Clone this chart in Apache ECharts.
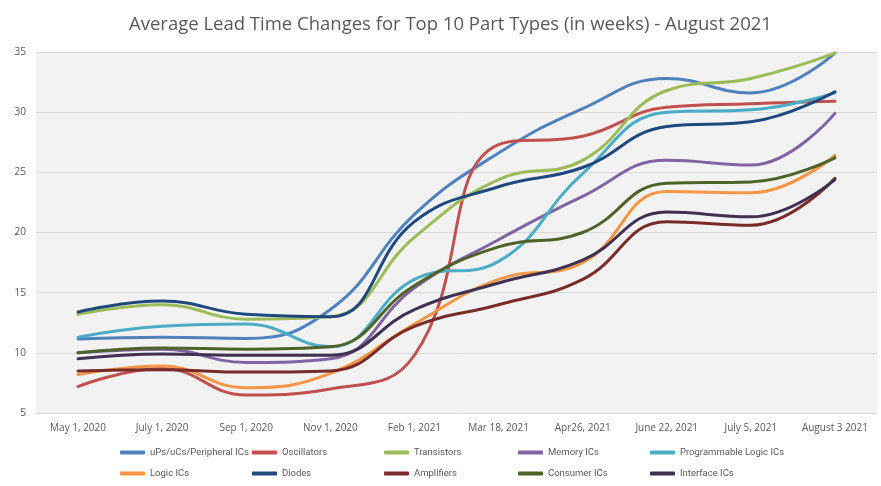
<!DOCTYPE html>
<html>
<head>
<meta charset="utf-8">
<script src="https://cdn.jsdelivr.net/npm/echarts@6/dist/echarts.min.js"></script>
<style>
  html, body { margin: 0; padding: 0; background: #fff; }
  #chart { width: 881px; height: 486px; }
</style>
</head>
<body>
<div id="chart"></div>
<script>
// categories (x axis)
const dates = ['May 1, 2020', 'July 1, 2020', 'Sep 1, 2020', 'Nov 1, 2020', 'Feb 1, 2021',
  'Mar 18, 2021', 'Apr26, 2021', 'June 22, 2021', 'July 5, 2021', 'August 3 2021']

// lead time in weeks
const upsUcs = [11.15, 11.3, 11.2, 13.6, 21.5, 26.6, 30.3, 32.8, 31.6, 34.9]
const oscillators = [7.2, 8.7, 6.5, 7.0, 9.8, 27.3, 28.0, 30.4, 30.7, 30.9]
const transistors = [13.2, 14.0, 12.8, 13.0, 19.6, 24.4, 26.0, 31.8, 32.8, 34.9]
const memoryIcs = [10.0, 10.3, 9.2, 9.5, 15.4, 19.4, 23.0, 26.0, 25.6, 29.9]
const progLogic = [11.3, 12.2, 12.4, 10.5, 16.1, 17.6, 24.9, 30.0, 30.2, 31.6]
const logicIcs = [8.2, 8.9, 7.1, 8.3, 12.4, 16.1, 17.5, 23.4, 23.3, 26.4]
const diodes = [13.4, 14.3, 13.2, 13.0, 20.9, 23.8, 25.4, 28.8, 29.2, 31.7]
const amplifiers = [8.5, 8.6, 8.4, 8.5, 12.2, 14.0, 16.1, 20.9, 20.6, 24.5]
const consumerIcs = [10.0, 10.4, 10.3, 10.5, 15.6, 18.8, 20.0, 24.1, 24.2, 26.2]
const interfaceIcs = [9.5, 9.9, 9.8, 9.8, 13.6, 15.8, 17.7, 21.7, 21.3, 24.4]

const seriesList = [
  { name: 'uPs/uCs/Peripheral ICs', data: upsUcs, color: '#4f81bd' },
  { name: 'Oscillators', data: oscillators, color: '#c0504d' },
  { name: 'Transistors', data: transistors, color: '#9bbb59' },
  { name: 'Memory ICs', data: memoryIcs, color: '#8064a2' },
  { name: 'Programmable Logic ICs', data: progLogic, color: '#4bacc6' },
  { name: 'Logic ICs', data: logicIcs, color: '#f79646' },
  { name: 'Diodes', data: diodes, color: '#1f497d' },
  { name: 'Amplifiers', data: amplifiers, color: '#772c2a' },
  { name: 'Consumer ICs', data: consumerIcs, color: '#4f6228' },
  { name: 'Interface ICs', data: interfaceIcs, color: '#403152' }
]

const chart = echarts.init(document.getElementById('chart'))

// legend: five columns of two items, like the excel layout
const legendCols = [120, 252, 384, 518, 650]
const legends = legendCols.map((x, i) => ({
  left: x,
  top: 446,
  padding: 0,
  orient: 'vertical',
  icon: 'roundRect',
  itemWidth: 25,
  itemHeight: 4,
  itemGap: 8,
  textStyle: {
    color: '#595959',
    fontSize: 9.5,
    fontFamily: 'Roboto',
    lineHeight: 13
  },
  data: [seriesList[i].name, seriesList[i + 5].name]
}))

const option = {
  backgroundColor: '#fff',
  animation: false,
  title: {
    text: 'Average Lead Time Changes for Top 10 Part Types (in weeks) - August 2021',
    left: 124,
    top: 10,
    textStyle: {
      color: '#595959',
      fontSize: 18.5,
      fontWeight: 'normal',
      fontFamily: 'Open Sans'
    }
  },
  legend: legends,
  grid: {
    left: 36,
    right: 4,
    top: 52,
    bottom: 73,
    show: true,
    backgroundColor: '#f2f2f2',
    borderWidth: 0
  },
  xAxis: {
    type: 'category',
    data: dates,
    boundaryGap: true,
    axisLine: { show: false },
    axisTick: { show: false },
    axisLabel: {
      color: '#595959',
      fontSize: 10,
      fontFamily: 'Open Sans',
      margin: 10,
      interval: 0
    }
  },
  yAxis: {
    type: 'value',
    min: 5,
    max: 35,
    interval: 5,
    axisLine: { show: false },
    axisTick: { show: false },
    axisLabel: {
      color: '#595959',
      fontSize: 10,
      fontFamily: 'Open Sans',
      margin: 10
    },
    splitLine: { lineStyle: { color: '#d9d9d9', width: 1 } }
  },
  series: seriesList.map(s => ({
    name: s.name,
    type: 'line',
    smooth: 0.45,
    showSymbol: false,
    data: s.data,
    itemStyle: { color: s.color },
    lineStyle: { color: s.color, width: 3, cap: 'round' }
  }))
}

chart.setOption(option)
</script>
</body>
</html>
